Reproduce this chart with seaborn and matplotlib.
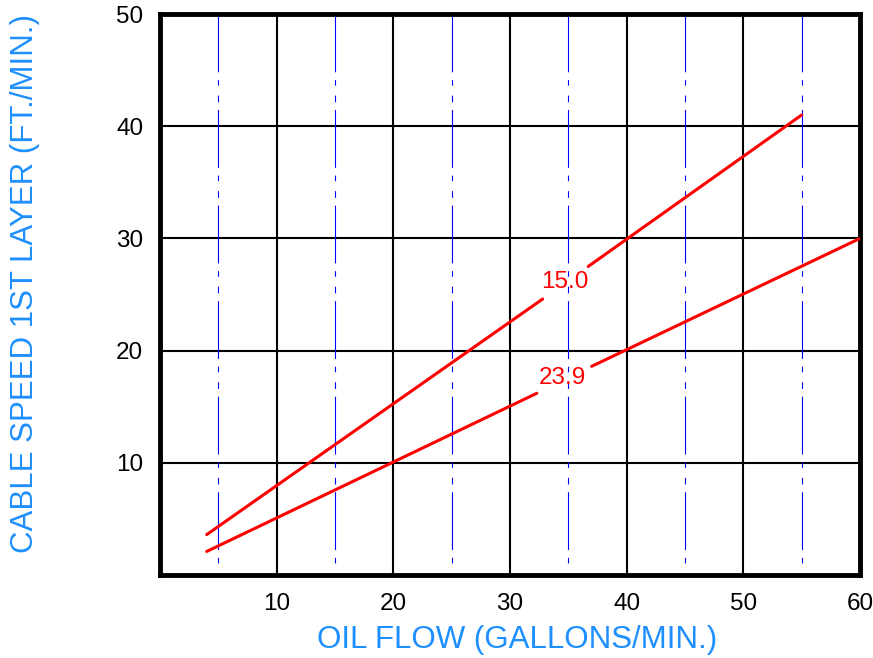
import matplotlib
matplotlib.use("Agg")
import matplotlib.pyplot as plt
import seaborn as sns
import pandas as pd

# red curves, each split in two pieces around its label
flow_15 = [4.0, 32.8, 36.7, 55.0]
speed_15 = [3.6, 24.6, 27.5, 41.0]
seg_15 = ["a", "a", "b", "b"]

flow_239 = [4.0, 32.3, 37.0, 60.0]
speed_239 = [2.1, 16.2, 18.6, 30.0]
seg_239 = ["a", "a", "b", "b"]

labels = ["15.0", "23.9"]
label_x = [34.7, 34.5]
label_y = [26.1, 17.55]

x_ticks = [10, 20, 30, 40, 50, 60]
y_ticks = [10, 20, 30, 40, 50]
x_minor = [5, 15, 25, 35, 45, 55]

sns.set_style("white")
plt.rcParams["font.family"] = ["Liberation Sans", "DejaVu Sans"]

fig = plt.figure(figsize=(8.73, 6.58), dpi=100)
ax = fig.add_axes([0.1833, 0.1261, 0.8018, 0.8526])

# grid
for x in x_ticks[:-1]:
    ax.axvline(x, color="black", lw=1.5, zorder=1)
for y in y_ticks[:-1]:
    ax.axhline(y, color="black", lw=1.5, zorder=1)
# blue dash-dot lines, drawn from the top so the long dash starts there
for x in x_minor:
    ax.plot([x, x], [50, 0], color="#0000ff", lw=0.8,
            linestyle=(0, (52, 7, 5, 9, 6, 7)), zorder=1)

df_15 = pd.DataFrame({"flow": flow_15, "speed": speed_15, "seg": seg_15})
df_239 = pd.DataFrame({"flow": flow_239, "speed": speed_239, "seg": seg_239})
for d in (df_15, df_239):
    sns.lineplot(data=d, x="flow", y="speed", units="seg", estimator=None,
                 color="red", lw=2.2, ax=ax, zorder=3, sort=False)

for t, lx, ly in zip(labels, label_x, label_y):
    ax.text(lx, ly, t, color="red", fontsize=17.5, ha="center", va="center", zorder=4)

ax.set_xlim(0, 60)
ax.set_ylim(0, 50)
ax.set_xticks(x_ticks)
ax.set_yticks(y_ticks)
ax.tick_params(axis="both", length=0, labelsize=17.5, colors="black")
ax.tick_params(axis="x", pad=13)
ax.tick_params(axis="y", pad=12)

for s in ax.spines.values():
    s.set_visible(True)
    s.set_color("black")
    s.set_linewidth(3.5)

ax.set_xlabel("OIL FLOW (GALLONS/MIN.)", color="#1e8fff", fontsize=22.5, va="center")
ax.set_ylabel("CABLE SPEED 1ST LAYER (FT./MIN.)", color="#1e8fff", fontsize=22.5, va="center")
ax.xaxis.set_label_coords(0.51, -0.116)
ax.yaxis.set_label_coords(-0.193, 0.52)

fig.savefig("out.png", dpi=100)
